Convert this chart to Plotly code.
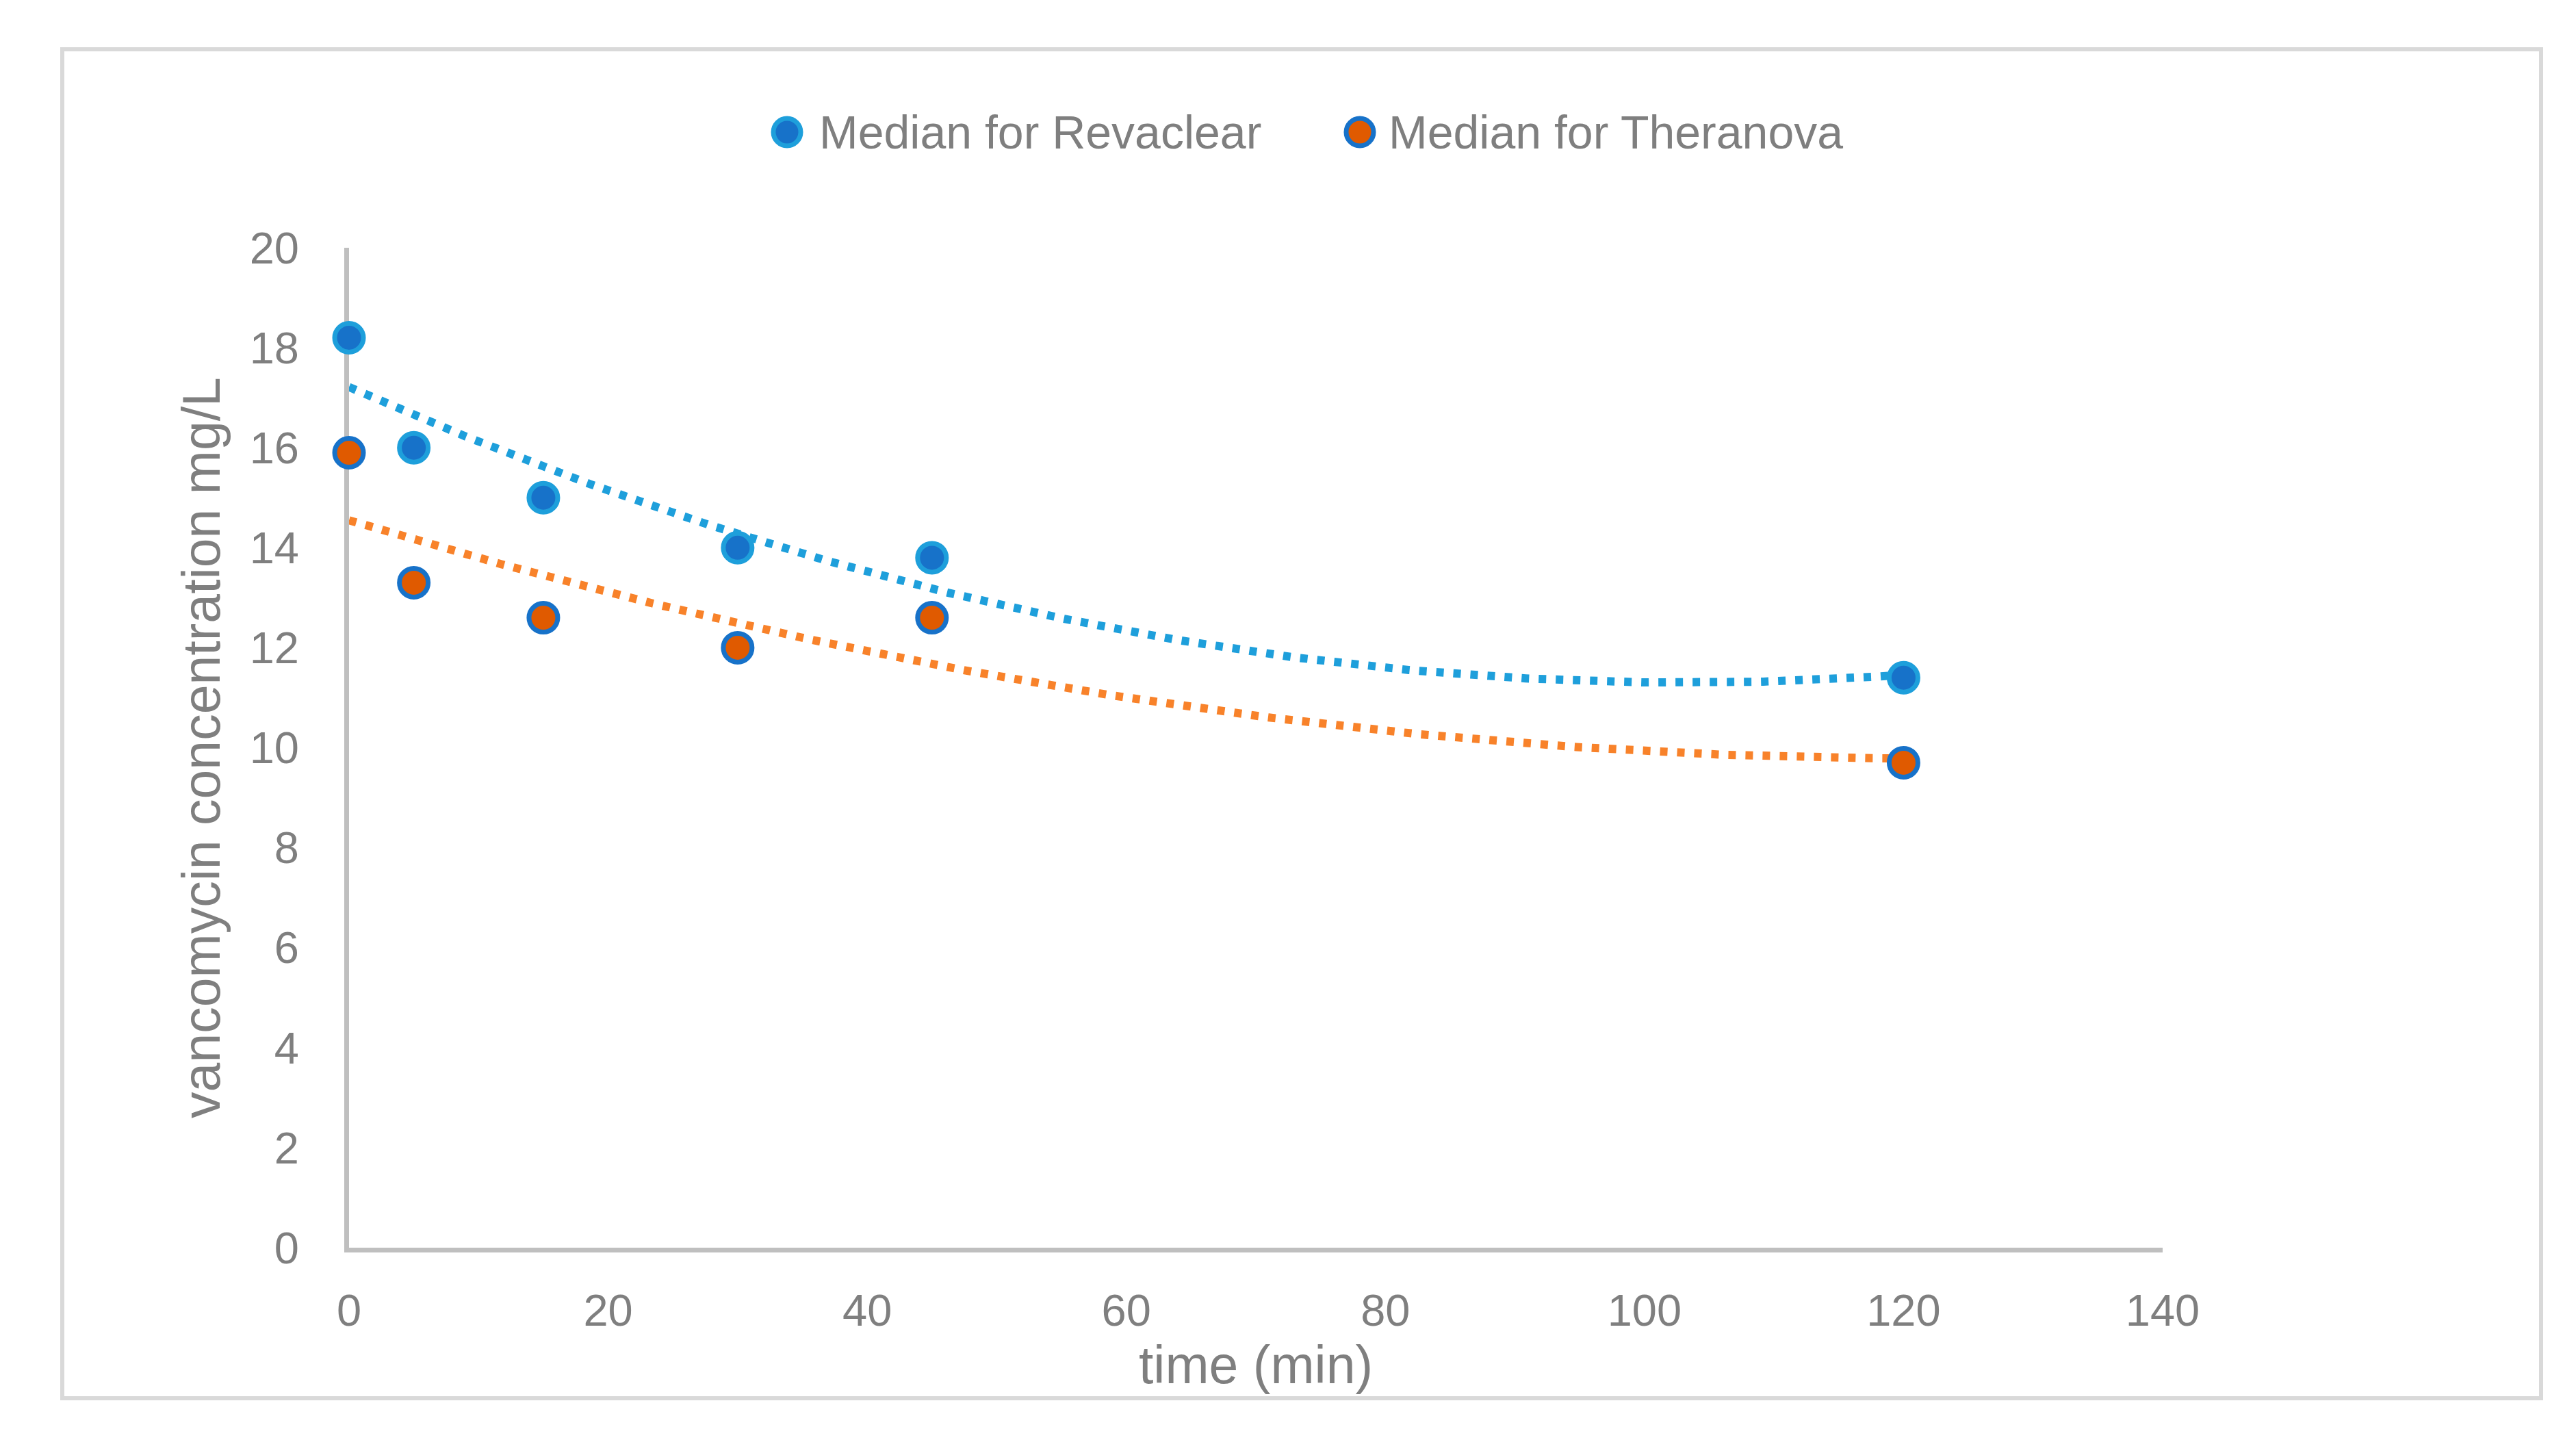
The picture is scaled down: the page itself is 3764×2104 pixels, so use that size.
import numpy as np
import plotly.graph_objects as go

# ---- data ----
time_min = [0, 5, 15, 30, 45, 120]
revaclear = [18.2, 16.0, 15.0, 14.0, 13.8, 11.4]
theranova = [15.9, 13.3, 12.6, 12.0, 12.6, 9.7]
series_names = ["Median for Revaclear", "Median for Theranova"]
x_ticks = [0, 20, 40, 60, 80, 100, 120, 140]
y_ticks = [0, 2, 4, 6, 8, 10, 12, 14, 16, 18, 20]

# ---- style / layout (page body has an 8px margin) ----
OFF = 8
W, H = 3764 - 2 * OFF, 2104 - 2 * OFF
L, R, T, B = 510 - OFF, 3160 - OFF, 362 - OFF, 1823 - OFF
GRAY_TXT = "#7F7F7F"
LIGHT_BLUE = "#1E9FDB"
DARK_BLUE = "#1772C9"
ORANGE = "#E05A00"
ORANGE_LINE = "#F8822A"
FONT = "Liberation Sans, Arial, sans-serif"


def px(x):
    return (x - OFF - L) / (R - L)


def py(y):
    return (B - (y - OFF)) / (B - T)


# polynomial (order 2) trendlines, as Excel computes them
xfit = np.linspace(min(time_min), max(time_min), 400)
fit_r = np.polyval(np.polyfit(time_min, revaclear, 2), xfit)
fit_t = np.polyval(np.polyfit(time_min, theranova, 2), xfit)

fig = go.Figure()
fig.add_trace(go.Scatter(x=xfit, y=fit_r, mode="lines", showlegend=False,
                         line=dict(color=LIGHT_BLUE, width=12, dash="11px,14px"),
                         hoverinfo="skip", cliponaxis=False))
fig.add_trace(go.Scatter(x=xfit, y=fit_t, mode="lines", showlegend=False,
                         line=dict(color=ORANGE_LINE, width=12, dash="11px,14px"),
                         hoverinfo="skip", cliponaxis=False))
fig.add_trace(go.Scatter(x=time_min, y=revaclear, mode="markers", name=series_names[0],
                         showlegend=False, cliponaxis=False,
                         marker=dict(size=42, color=DARK_BLUE, line=dict(color=LIGHT_BLUE, width=7))))
fig.add_trace(go.Scatter(x=time_min, y=theranova, mode="markers", name=series_names[1],
                         showlegend=False, cliponaxis=False,
                         marker=dict(size=42, color=ORANGE, line=dict(color=DARK_BLUE, width=7))))

shapes = [
    # outer chart border
    dict(type="rect", xref="paper", yref="paper",
         x0=px(91), x1=px(3713), y0=py(2043), y1=py(72),
         line=dict(color="#D9D9D9", width=6), fillcolor="rgba(0,0,0,0)", layer="below"),
]
annotations = []
# manual legend (large markers like the original)
legend_items = [
    (1150, 1195, DARK_BLUE, LIGHT_BLUE, series_names[0]),
    (1987, 2027, ORANGE, DARK_BLUE, series_names[1]),
]
for mx, tx, fill, edge, name in legend_items:
    shapes.append(dict(type="circle", xref="paper", yref="paper",
                       xsizemode="pixel", ysizemode="pixel",
                       xanchor=px(mx), yanchor=py(193),
                       x0=-20, x1=20, y0=-20, y1=20,
                       fillcolor=fill, line=dict(color=edge, width=7)))
    annotations.append(dict(xref="paper", yref="paper", x=px(tx), y=py(193),
                            xanchor="left", yanchor="middle", showarrow=False,
                            text=name, font=dict(family=FONT, size=68, color=GRAY_TXT)))

fig.update_layout(
    width=W, height=H, autosize=False,
    margin=dict(l=L, r=W - R, t=T, b=H - B, pad=0),
    paper_bgcolor="white", plot_bgcolor="white",
    showlegend=False,
    shapes=shapes, annotations=annotations,
    font=dict(family=FONT, color=GRAY_TXT),
)
fig.update_xaxes(
    range=[0, 140], tickvals=x_ticks, showgrid=False, zeroline=False,
    showline=True, linecolor="#BFBFBF", linewidth=7, ticks="",
    tickfont=dict(family=FONT, size=65, color=GRAY_TXT), ticklabelstandoff=29,
    title=dict(text="time (min)", font=dict(family=FONT, size=77, color=GRAY_TXT), standoff=0),
    layer="below traces", automargin=False,
)
fig.update_yaxes(
    range=[0, 20], tickvals=y_ticks, showgrid=False, zeroline=False,
    showline=True, linecolor="#BFBFBF", linewidth=7, ticks="",
    tickfont=dict(family=FONT, size=65, color=GRAY_TXT), ticklabelstandoff=53,
    title=dict(text="vancomycin concentration mg/L",
               font=dict(family=FONT, size=77, color=GRAY_TXT), standoff=20),
    layer="below traces", automargin=False,
)

fig.write_html("out.html")
